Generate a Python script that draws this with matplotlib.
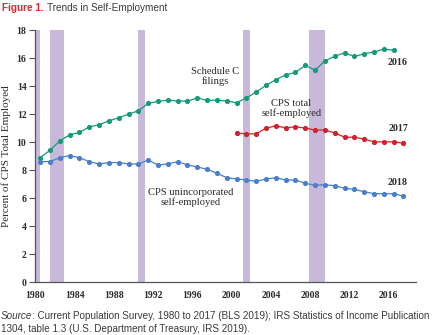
"""
Figure 1 — Trends in Self-Employment
Schedule C filings, CPS total and CPS unincorporated self-employed,
as percent of CPS total employed, with recession bands.
"""

import matplotlib
matplotlib.use("Agg")
import matplotlib.pyplot as plt

# ── Data ───────────────────────────────────────────────────────────────────
years_schc = list(range(1980, 2017))
schedule_c = [8.90, 9.43, 10.10, 10.53, 10.70, 11.10, 11.25, 11.53, 11.75, 12.01,
              12.25, 12.77, 12.92, 13.01, 12.94, 12.94, 13.16, 12.99, 13.01, 12.94,
              12.82, 13.16, 13.59, 14.06, 14.47, 14.80, 14.99, 15.49, 15.14, 15.81,
              16.14, 16.38, 16.12, 16.31, 16.45, 16.64, 16.57]

years_total = list(range(2000, 2018))
cps_total = [10.67, 10.60, 10.60, 11.01, 11.17, 11.03, 11.10, 11.01, 10.87, 10.87,
             10.67, 10.36, 10.36, 10.22, 10.03, 10.03, 10.03, 9.93]

years_uninc = list(range(1980, 2018))
cps_uninc = [8.62, 8.62, 8.90, 9.05, 8.90, 8.62, 8.45, 8.55, 8.55, 8.45,
             8.45, 8.72, 8.38, 8.45, 8.62, 8.38, 8.24, 8.07, 7.79, 7.47,
             7.38, 7.31, 7.21, 7.38, 7.47, 7.31, 7.31, 7.07, 6.93, 6.97,
             6.90, 6.71, 6.64, 6.47, 6.33, 6.33, 6.33, 6.16]

# NBER recessions (fractional years)
rec_start = [1980.0, 1981.5, 1990.5, 2001.2, 2007.9]
rec_end   = [1980.5, 1982.9, 1991.2, 2001.9, 2009.5]

x_ticks = list(range(1980, 2017, 4))
y_ticks = list(range(0, 19, 2))

GREEN  = "#169a7b"
RED    = "#d3202c"
BLUE   = "#4a7fc9"
PURPLE = "#c8b8da"
AXIS   = "#555555"
TEXT   = "#2b2b2b"
SERIF  = ["Liberation Serif", "DejaVu Serif"]
SANS   = ["Liberation Sans", "DejaVu Sans"]

# ── Figure ─────────────────────────────────────────────────────────────────
fig = plt.figure(figsize=(4.4, 3.35), dpi=100)
ax = fig.add_axes([0.079, 0.157, 0.867, 0.753])

for s, e in zip(rec_start, rec_end):
    ax.axvspan(s, e, color=PURPLE, lw=0, zorder=1)

# data points plotted at mid-year
def mid(ys):
    return [y + 0.5 for y in ys]

line_kw = dict(lw=0.9, marker="o", markersize=2.7, zorder=3)
ax.plot(mid(years_schc), schedule_c, color=GREEN, **line_kw)
ax.plot(mid(years_total), cps_total, color=RED, **line_kw)
ax.plot(mid(years_uninc), cps_uninc, color=BLUE, **line_kw)

ax.set_xlim(1979.95, 2018.8)
ax.set_ylim(0, 18)
ax.set_xticks(x_ticks)
ax.set_yticks(y_ticks)
ax.tick_params(axis="x", length=0, pad=6)
ax.tick_params(axis="y", length=4, width=0.8, color=AXIS, pad=2)
for lab in ax.get_xticklabels() + ax.get_yticklabels():
    lab.set_family(SERIF)
    lab.set_fontsize(7.0)
    lab.set_fontweight("bold")
    lab.set_color(TEXT)

for side in ["top", "right"]:
    ax.spines[side].set_visible(False)
for side in ["left", "bottom"]:
    ax.spines[side].set_color(AXIS)
    ax.spines[side].set_linewidth(0.9)

ax.set_ylabel("Percent of CPS Total Employed", family=SERIF, fontsize=8,
              color=TEXT)
ax.yaxis.set_label_coords(-0.062, 0.5)

# ── Annotations ────────────────────────────────────────────────────────────
ann_kw = dict(family=SERIF, fontsize=7.6, color=TEXT, ha="center", va="center",
              linespacing=1.0)
ax.text(1998.3, 14.7, "Schedule C\nfilings", **ann_kw)
ax.text(2006.1, 12.4, "CPS total\nself-employed", **ann_kw)
ax.text(1995.8, 6.05, "CPS unincorporated\nself-employed", **ann_kw)

end_kw = dict(family=SERIF, fontsize=7.2, fontweight="bold", color=TEXT,
              ha="center", va="center")
ax.text(2016.9, 15.7, "2016", **end_kw)
ax.text(2017.0, 11.0, "2017", **end_kw)
ax.text(2016.9, 7.15, "2018", **end_kw)

# ── Title and source ───────────────────────────────────────────────────────
renderer = fig.canvas.get_renderer()

t1 = fig.text(2 / 440, 1 - 8 / 335, "Figure 1.", family=SANS, fontsize=7.2,
              fontweight="bold", color="#e3262f", va="center")
w1 = t1.get_window_extent(renderer).width
fig.text((2 + w1 + 3) / 440, 1 - 8 / 335, "Trends in Self-Employment",
         family=SANS, fontsize=7.2, color="#3a3a3a", va="center")

SRC = 7.1
s1 = fig.text(1 / 440, 1 - 316 / 335, "Source", family=SANS, fontsize=SRC,
              style="italic", color="#3a3a3a", va="center")
ws = s1.get_window_extent(renderer).width
fig.text((1 + ws) / 440, 1 - 316 / 335,
         ": Current Population Survey, 1980 to 2017 (BLS 2019); "
         "IRS Statistics of Income Publication",
         family=SANS, fontsize=SRC, color="#3a3a3a", va="center")
fig.text(1 / 440, 1 - 328.5 / 335,
         "1304, table 1.3 (U.S. Department of Treasury, IRS 2019).",
         family=SANS, fontsize=SRC, color="#3a3a3a", va="center")

fig.savefig("out.png", dpi=100)
plt.close(fig)
